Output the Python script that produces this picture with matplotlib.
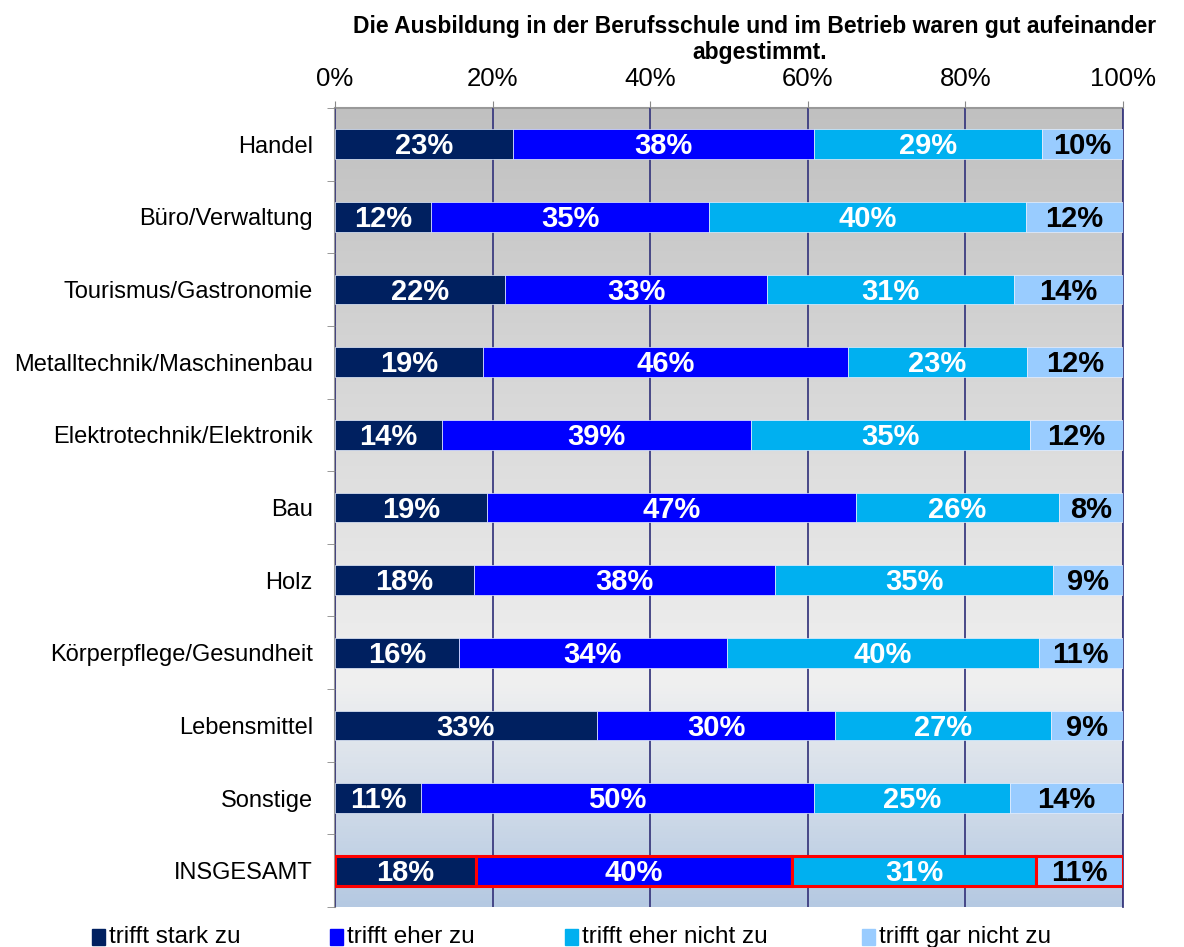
import numpy as np
import matplotlib
matplotlib.use("Agg")
import matplotlib.pyplot as plt
from matplotlib.patches import Rectangle
from matplotlib.colors import LinearSegmentedColormap

plt.rcParams['font.family'] = ['Liberation Sans', 'DejaVu Sans']

# data (shares in %)
categories = ["Handel", "Büro/Verwaltung", "Tourismus/Gastronomie",
              "Metalltechnik/Maschinenbau", "Elektrotechnik/Elektronik", "Bau",
              "Holz", "Körperpflege/Gesundheit", "Lebensmittel", "Sonstige",
              "INSGESAMT"]
stark = [22.6, 12.2, 21.6, 18.8, 13.6, 19.3, 17.6, 15.7, 33.2, 10.9, 17.9]
eher = [38.2, 35.3, 33.2, 46.3, 39.2, 46.8, 38.3, 34.0, 30.3, 49.9, 40.1]
eher_nicht = [28.9, 40.2, 31.4, 22.7, 35.4, 25.8, 35.2, 39.6, 27.3, 24.9, 31.0]
gar_nicht = [10.3, 12.3, 13.8, 12.2, 11.8, 8.1, 8.9, 10.7, 9.2, 14.3, 11.0]
series_names = ["trifft stark zu", "trifft eher zu", "trifft eher nicht zu", "trifft gar nicht zu"]
colors = ["#002060", "#0000ff", "#00b0f0", "#99ccff"]
text_colors = ["white", "white", "white", "black"]

fig = plt.figure(figsize=(11.84, 9.47), dpi=100)
ax = fig.add_axes([335/1184, 1 - 907/947, 788/1184, 799/947])

# background gradient
bg = LinearSegmentedColormap.from_list("bg", [(0, "#c0c0c0"), (0.72, "#f0f0f0"), (1.0, "#b5c9e2")])
grad = np.linspace(0, 1, 256).reshape(-1, 1)
ax.imshow(grad, cmap=bg, aspect="auto", extent=[0, 100, 10.5, -0.5], zorder=0)

y = np.arange(len(categories))
left = np.zeros(len(categories))
all_series = [stark, eher, eher_nicht, gar_nicht]
for i, vals in enumerate(all_series):
    vals = np.array(vals)
    bars = ax.barh(y, vals, left=left, height=0.41, color=colors[i],
                   edgecolor="#e8f0ff", linewidth=0.5, zorder=3)
    # totals row gets red outline
    bars[-1].set_edgecolor("#ff0000")
    bars[-1].set_linewidth(2.2)
    bars[-1].set_zorder(4)
    for yy, l, v in zip(y, left, vals):
        ax.text(l + v / 2, yy + 0.03, f"{round(v):.0f}%", ha="center", va="center",
                color=text_colors[i], fontsize=21, fontweight="bold", zorder=5)
    left += vals

ax.set_xlim(0, 100)
ax.set_ylim(10.5, -0.5)
ax.set_xticks(np.arange(0, 101, 20))
ax.set_xticklabels([f"{t}%" for t in range(0, 101, 20)])
ax.xaxis.tick_top()
ax.tick_params(axis="x", labelsize=18.5, length=5, color="#888888", pad=7)
ax.set_yticks(y)
ax.set_yticklabels(categories)
ax.tick_params(axis="y", labelsize=17, length=0, pad=16)
ax.set_yticks(np.arange(-0.5, 10.6, 1), minor=True)
ax.tick_params(axis="y", which="minor", length=6, color="#888888")
ax.grid(axis="x", color="#3c3c80", linewidth=1.3, zorder=1)
ax.set_axisbelow(False)
for s in ["top", "left"]:
    ax.spines[s].set_color("#999999")
    ax.spines[s].set_linewidth(1.5)
ax.spines["bottom"].set_visible(False)
ax.spines["right"].set_color("#3c3c80")
ax.spines["right"].set_linewidth(1.3)

fig.text(755/1184, 1 - 27/947, "Die Ausbildung in der Berufsschule und im Betrieb waren gut aufeinander",
         ha="center", va="center", fontsize=16.5, fontweight="bold")
fig.text(760/1184, 1 - 53/947, "abgestimmt.", ha="center", va="center",
         fontsize=16.5, fontweight="bold")

# legend along the bottom edge
leg_x = [92, 330, 565, 862]
for name, c, lx in zip(series_names, colors, leg_x):
    fig.patches.append(Rectangle((lx/1184, 1 - 945/947), 13/1184, 16/947,
                                 transform=fig.transFigure, color=c))
    fig.text((lx + 17)/1184, 1 - 937/947, name, ha="left", va="center", fontsize=17.5)

fig.savefig("out.png", dpi=100)
